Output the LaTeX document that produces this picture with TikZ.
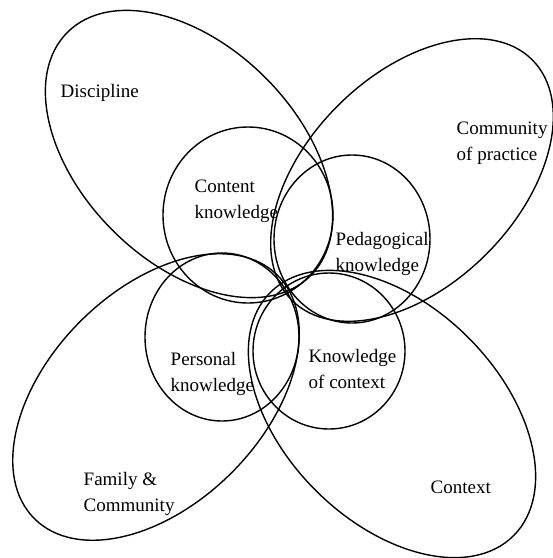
\documentclass[tikz,border=0pt]{standalone}
\usepackage{fontspec}
\setmainfont{Liberation Serif}
\tikzset{
  lbl/.style={align=left,inner sep=0pt,anchor=north west,font=\fontsize{19}{26}\selectfont},
}
\begin{document}
\begin{tikzpicture}[x=1pt,y=-1pt,line width=1.4pt]
\useasboundingbox (0,0) rectangle (553,558);
\draw[rotate around={-45:(189,154)}] (189,154) ellipse (172 and 108);
\draw[rotate around={45:(412,180)}] (412,180) ellipse (170 and 105);
\draw[rotate around={45:(156,397)}] (156,397) ellipse (172 and 107);
\draw[rotate around={-45:(392,414)}] (392,414) ellipse (172 and 108);
\draw (248,215) ellipse (85 and 88);
\draw (352,239) ellipse (78 and 84);
\draw (222,337) ellipse (77 and 84);
\draw (329,351) ellipse (76 and 78);
\node[lbl] (discipline) at (60,84) {Discipline};
\node[lbl] (community) at (456,121) {Community\\of practice};
\node[lbl] (family) at (83,472) {Family \&\\Community};
\node[lbl] (context) at (430,480) {Context};
\node[lbl] (content) at (194,179) {Content\\knowledge};
\node[lbl] (pedagogy) at (335,232) {Pedagogical\\knowledge};
\node[lbl] (personal) at (170,352) {Personal\\knowledge};
\node[lbl] (ofcontext) at (308,349) {Knowledge\\of context};
\end{tikzpicture}
\end{document}
